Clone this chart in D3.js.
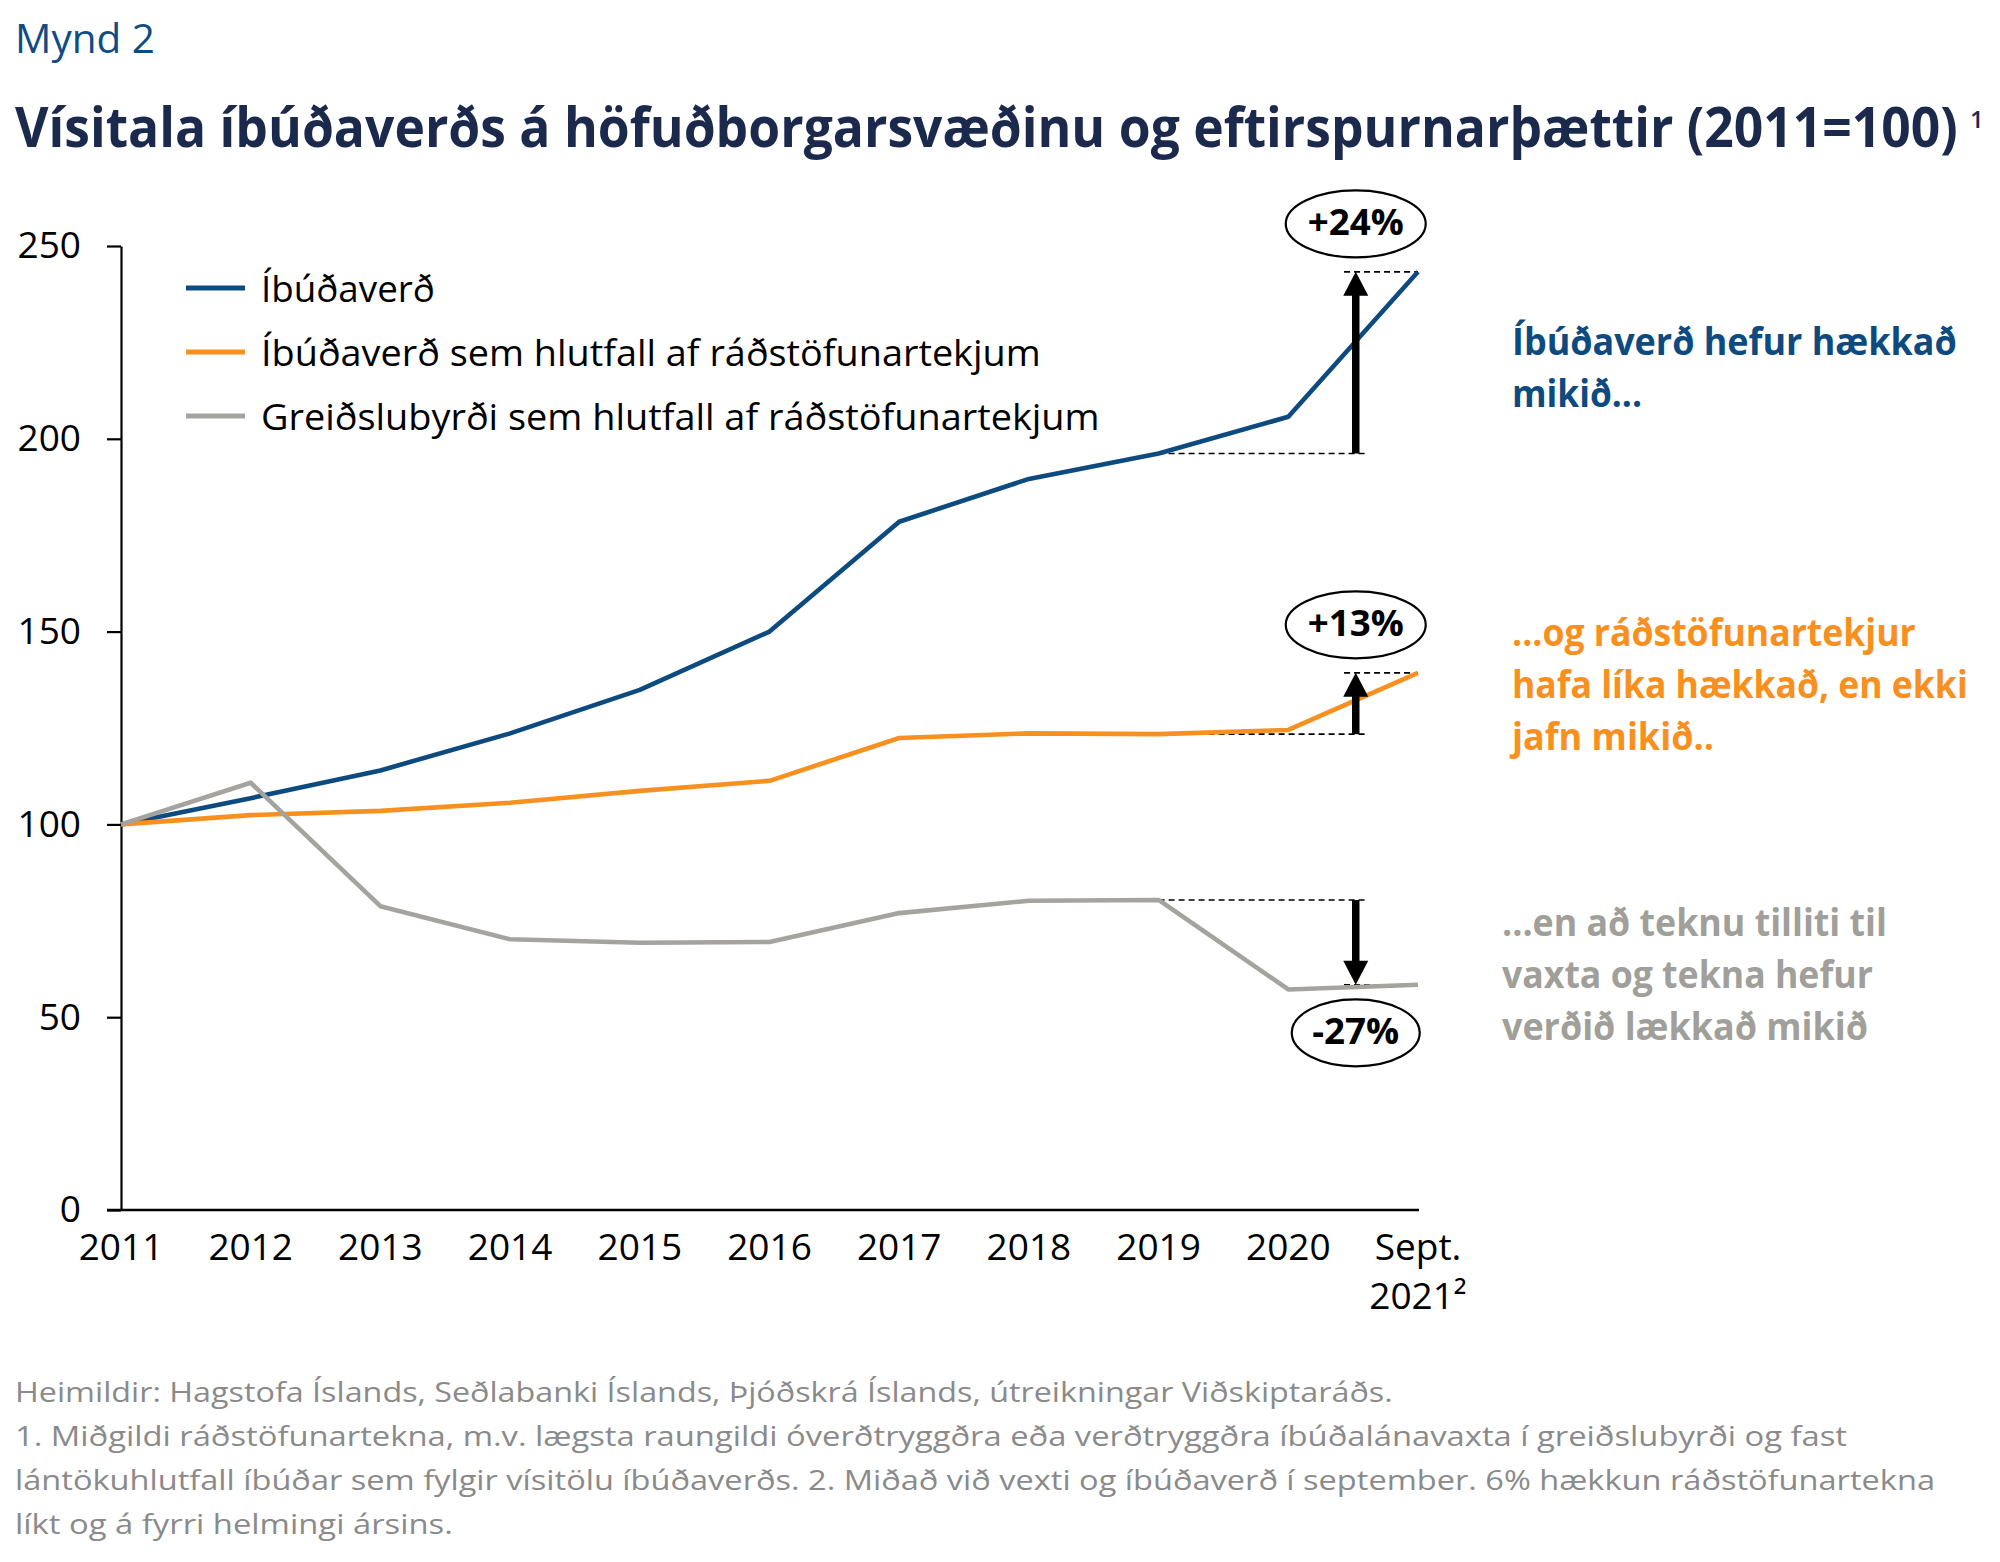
<!DOCTYPE html>
<html><head><meta charset="utf-8">
<script src="https://cdn.jsdelivr.net/npm/d3@7"></script>
<style>
body{margin:0;background:#fff}
svg{display:block}
text{font-family:"Open Sans","Noto Sans",sans-serif}
</style>
</head><body>
<svg id="chart" width="2000" height="1562"></svg>
<script>
// ---------- data ----------
const categories = ["2011","2012","2013","2014","2015","2016","2017","2018","2019","2020","Sept. 2021²"];
const housePrice    = [100, 106.8, 114.0, 123.6, 134.9, 150.0, 178.5, 189.6, 196.2, 205.7, 243.3];
const priceToIncome = [100, 102.4, 103.5, 105.6, 108.7, 111.3, 122.4, 123.6, 123.4, 124.5, 139.3];
const paymentBurden = [100, 110.8, 78.8, 70.2, 69.3, 69.5, 77.0, 80.2, 80.4, 57.2, 58.4];
const seriesNames = ["Íbúðaverð",
  "Íbúðaverð sem hlutfall af ráðstöfunartekjum",
  "Greiðslubyrði sem hlutfall af ráðstöfunartekjum"];
const yTicks = [0, 50, 100, 150, 200, 250];
const changeLabels = ["+24%", "+13%", "-27%"];
const titleText = "Vísitala íbúðaverðs á höfuðborgarsvæðinu og eftirspurnarþættir (2011=100)";
const figureLabel = "Mynd 2";
const sideNotes = [
  ["Íbúðaverð hefur hækkað", "mikið..."],
  ["...og ráðstöfunartekjur", "hafa líka hækkað, en ekki", "jafn mikið.."],
  ["...en að teknu tilliti til", "vaxta og tekna hefur", "verðið lækkað mikið"]
];
const footnotes = [
  "Heimildir: Hagstofa Íslands, Seðlabanki Íslands, Þjóðskrá Íslands, útreikningar Viðskiptaráðs.",
  "1. Miðgildi ráðstöfunartekna, m.v. lægsta raungildi óverðtryggðra eða verðtryggðra íbúðalánavaxta í greiðslubyrði og fast",
  "lántökuhlutfall íbúðar sem fylgir vísitölu íbúðaverðs. 2. Miðað við vexti og íbúðaverð í september. 6% hækkun ráðstöfunartekna",
  "líkt og á fyrri helmingi ársins."
];

// ---------- styles / layout ----------
const colors = ["#0d4a80", "#f7901e", "#a4a39e"];
const textColors = ["#0d4a80", "#f7901e", "#a09f9a"];
const series = [housePrice, priceToIncome, paymentBurden];

const svg = d3.select("#chart");
const x = d3.scaleLinear().domain([0, categories.length - 1]).range([121, 1418]);
const y = d3.scaleLinear().domain([0, 250]).range([1210, 246]);

// place a text at (px,py) and scale it horizontally to width w
function place(sel, px, py, w) {
  sel.attr("x", 0).attr("y", 0);
  const n = sel.node().getComputedTextLength();
  const k = n > 0 ? w / n : 1;
  sel.attr("transform", `translate(${px},${py}) scale(${k},1)`);
  return sel;
}

// figure label + title
place(svg.append("text").attr("font-size", 40).attr("fill", "#0f4c84").text(figureLabel), 15, 53, 140);
place(svg.append("text").attr("font-size", 55).attr("font-weight", 700).attr("fill", "#1b2a4c")
  .text(titleText), 15, 147, 1943);
svg.append("text").attr("x", 1970).attr("y", 128).attr("font-size", 24)
  .attr("font-weight", 600).attr("fill", "#1b2a4c").text("1");

// axes
const yAxis = d3.axisLeft(y).tickValues(yTicks).tickSize(14).tickPadding(26).tickSizeOuter(0);
const gy = svg.append("g").attr("transform", `translate(${x(0)},0)`).call(yAxis);
gy.select(".domain").attr("stroke", "#000").attr("stroke-width", 2.2);
gy.selectAll(".tick line").attr("stroke", "#000").attr("stroke-width", 2.2);
gy.selectAll(".tick text").attr("font-size", 37).attr("fill", "#000")
  .attr("font-family", '"Open Sans",sans-serif');

svg.append("line").attr("x1", x(0) - 14).attr("x2", x(categories.length - 1) + 1)
  .attr("y1", y(0)).attr("y2", y(0)).attr("stroke", "#000").attr("stroke-width", 2.6);

const xl = svg.append("g");
categories.forEach((c, i) => {
  const parts = c.split(" ");
  parts.forEach((p, j) => {
    xl.append("text").attr("x", x(i)).attr("y", 1260 + j * 49)
      .attr("text-anchor", "middle").attr("font-size", 37).attr("fill", "#000").text(p);
  });
});

// dashed reference lines
const from = 8, to = 10, arrowPos = 9.52;
const dash = svg.append("g").attr("stroke", "#000").attr("stroke-width", 1.6)
  .attr("stroke-dasharray", "6,4").attr("fill", "none");
series.forEach(s => {
  dash.append("line").attr("x1", x(from)).attr("x2", x(9.6)).attr("y1", y(s[from])).attr("y2", y(s[from]));
  dash.append("line").attr("x1", x(9.43)).attr("x2", x(to)).attr("y1", y(s[to])).attr("y2", y(s[to]));
});

// series lines
const line = d3.line().x((d, i) => x(i)).y(d => y(d));
series.forEach((s, k) => {
  svg.append("path").datum(s).attr("d", line).attr("fill", "none")
    .attr("stroke", colors[k]).attr("stroke-width", 4.6).attr("stroke-linejoin", "round");
});

// arrows + ellipses
series.forEach((s, k) => {
  const y0 = y(s[from]), y1 = y(s[to]);
  const dir = y1 < y0 ? -1 : 1;
  const ax = x(arrowPos), head = 24, hw = 12.5;
  svg.append("line").attr("x1", ax).attr("x2", ax).attr("y1", y0).attr("y2", y1 - dir * head + dir * 2)
    .attr("stroke", "#000").attr("stroke-width", 7.5);
  svg.append("path").attr("d", `M${ax},${y1} L${ax - hw},${y1 - dir * head} L${ax + hw},${y1 - dir * head} Z`)
    .attr("fill", "#000");
  const cy = y1 + dir * 48;
  const rx = k === 2 ? 64 : 70;
  svg.append("ellipse").attr("cx", ax).attr("cy", cy).attr("rx", rx).attr("ry", 33.5)
    .attr("fill", "#fff").attr("stroke", "#000").attr("stroke-width", 2.2);
  place(svg.append("text").attr("text-anchor", "middle").attr("font-size", 36)
    .attr("font-weight", 700).attr("fill", "#000").text(changeLabels[k]),
    ax, cy + 11, k === 2 ? 87 : 96);
});

// legend
const legendY = [288, 352, 416];
const legendW = [174, 780, 839];
seriesNames.forEach((n, k) => {
  svg.append("line").attr("x1", 186).attr("x2", 245).attr("y1", legendY[k]).attr("y2", legendY[k])
    .attr("stroke", colors[k]).attr("stroke-width", 5);
  place(svg.append("text").attr("font-size", 37).attr("fill", "#000").text(n),
    261, legendY[k] + 14, legendW[k]);
});

// side notes
const noteX = [1512, 1512, 1502];
const noteY = [355, 646, 936];
const noteW = [[445, 130], [404, 456, 202], [385, 371, 366]];
sideNotes.forEach((lines, k) => {
  lines.forEach((t, j) => {
    place(svg.append("text").attr("font-size", 38).attr("font-weight", 700)
      .attr("fill", textColors[k]).text(t), noteX[k], noteY[k] + j * 52, noteW[k][j]);
  });
});

// footnotes
const footW = [1378, 1833, 1921, 438];
footnotes.forEach((t, j) => {
  place(svg.append("text").attr("font-size", 28).attr("fill", "#8a8a8a").text(t),
    15, 1402 + j * 44, footW[j]);
});
</script>
</body></html>
